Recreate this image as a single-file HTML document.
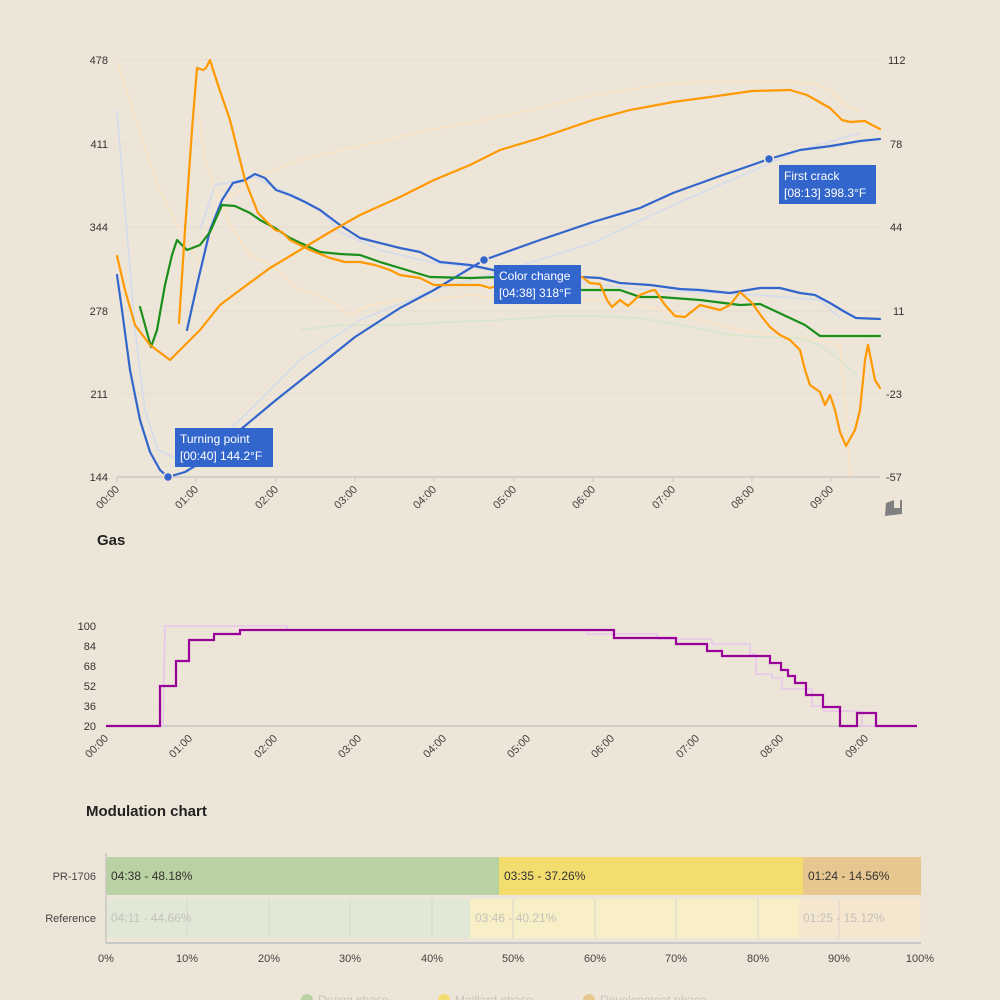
<!DOCTYPE html>
<html><head><meta charset="utf-8"><style>
html,body{margin:0;padding:0;background:#ede5d8;}
svg{display:block;font-family:"Liberation Sans",sans-serif;}
</style></head><body>
<svg width="1000" height="1000" viewBox="0 0 1000 1000">
<rect width="1000" height="1000" fill="#ede5d8"/>
<!-- main grid -->
<g stroke="#e4ddd0" stroke-width="1">
<line x1="117" y1="60" x2="880" y2="60"/><line x1="117" y1="144" x2="880" y2="144"/>
<line x1="117" y1="227" x2="880" y2="227"/><line x1="117" y1="311" x2="880" y2="311"/>
<line x1="117" y1="394" x2="880" y2="394"/>
</g>
<line x1="117" y1="477" x2="880" y2="477" stroke="#c9c6c2" stroke-width="1.5"/>
<g stroke="#c9c6c2"><line x1="117" y1="477" x2="117" y2="482"/><line x1="196" y1="477" x2="196" y2="482"/><line x1="276" y1="477" x2="276" y2="482"/><line x1="355" y1="477" x2="355" y2="482"/><line x1="434" y1="477" x2="434" y2="482"/><line x1="514" y1="477" x2="514" y2="482"/><line x1="593" y1="477" x2="593" y2="482"/><line x1="673" y1="477" x2="673" y2="482"/><line x1="752" y1="477" x2="752" y2="482"/><line x1="831" y1="477" x2="831" y2="482"/></g>
<g font-size="11" fill="#333" text-anchor="end">
<text x="108" y="64">478</text><text x="108" y="148">411</text><text x="108" y="231">344</text><text x="108" y="315">278</text><text x="108" y="398">211</text><text x="108" y="481">144</text>
</g>
<g font-size="11" fill="#333" text-anchor="start">
<text x="888" y="64">112</text><text x="890" y="148">78</text><text x="890" y="231">44</text><text x="893" y="315">11</text><text x="886" y="398">-23</text><text x="886" y="481">-57</text>
</g>
<g font-size="11" fill="#444" text-anchor="end">
<text transform="translate(120,490) rotate(-45)">00:00</text><text transform="translate(199,490) rotate(-45)">01:00</text><text transform="translate(279,490) rotate(-45)">02:00</text><text transform="translate(358,490) rotate(-45)">03:00</text><text transform="translate(437,490) rotate(-45)">04:00</text><text transform="translate(517,490) rotate(-45)">05:00</text><text transform="translate(596,490) rotate(-45)">06:00</text><text transform="translate(676,490) rotate(-45)">07:00</text><text transform="translate(755,490) rotate(-45)">08:00</text><text transform="translate(834,490) rotate(-45)">09:00</text>
</g>
<!-- reference pale lines -->
<g fill="none" stroke-width="1.6" stroke-linejoin="round">
<polyline stroke="#fbe3c4" points="117,60 130,100 145,150 160,190 175,220 190,250 200,262"/>
<polyline stroke="#fbe3c4" points="197,100 205,160 215,190 230,225 250,255 270,265 300,290 330,300 350,315 370,305 400,300 430,300 470,295 520,300 560,298 590,300 620,300 660,310 700,320 740,330 780,336 820,340 840,345 845,400 850,477"/>
<polyline stroke="#fbe3c4" points="225,200 260,175 300,160 360,146 420,132 500,117 593,95 673,83 752,82 815,83 830,90 845,105 860,112"/>
<polyline stroke="#d4dcec" points="117,110 125,210 135,330 145,410 158,450 175,458 200,455 240,420 300,360 360,320 434,290 500,272 593,243 673,205 752,171 800,150 860,133"/>
<polyline stroke="#d4dcec" points="200,230 215,185 240,180 255,177 270,185 300,198 320,210 340,232 380,250 430,262 480,268 540,275 600,285 650,290 700,292 760,295 820,300 840,318"/>
<polyline stroke="#d6e6cc" points="300,330 340,325 400,325 450,322 500,320 560,316 590,316 640,318 680,325 730,335 760,337 800,338 820,345 840,360 857,375"/>
</g>
<!-- main series -->
<g fill="none" stroke-width="2.2" stroke-linejoin="round" stroke-linecap="round">
<polyline stroke="#3366cc" points="117,275 122,310 130,370 140,420 150,452 160,470 168,477 185,472 200,463 240,430 276,400 320,365 355,337 400,308 434,290 484,260 540,240 593,222 640,208 673,193 720,176 752,165 769,159 800,150 831,146 860,141 880,139"/>
<polyline stroke="#3366cc" points="187,330 197,285 210,230 222,200 233,183 245,180 255,174 265,178 276,190 290,195 305,202 320,210 340,225 360,238 380,243 400,248 420,252 440,262 470,265 493,270 520,274 560,276 582,277 600,278 620,283 650,285 680,289 700,290 730,293 760,288 780,288 800,293 815,295 830,303 845,312 856,318 880,319"/>
<polyline stroke="#1a8f1a" points="140,307 145,325 151,347 157,330 165,285 172,255 177,240 182,245 187,250 200,245 210,232 222,205 235,206 250,213 260,220 275,228 290,238 320,252 340,254 360,255 380,262 400,268 430,277 470,278 500,277 540,283 580,290 600,290 620,290 640,297 660,297 700,300 740,305 760,304 790,318 805,325 820,336 880,336"/>
<polyline stroke="#ff9900" points="117,256 125,290 135,325 150,345 170,360 185,345 200,330 220,305 240,290 270,268 300,250 330,232 360,215 400,197 434,180 470,165 500,150 540,138 593,120 630,110 673,102 710,97 752,91 790,90 807,95 830,108 842,120 850,122 865,121 872,125 880,129"/>
<polyline stroke="#ff9900" points="179,323 185,230 192,130 197,68 203,70 206,68 210,60 218,85 230,120 245,180 258,213 265,220 275,230 282,232 290,240 300,245 310,250 330,258 345,262 360,262 375,265 390,270 400,275 420,278 434,285 460,285 480,285 490,288 500,285 520,283 550,280 582,277 590,283 600,284 607,300 612,307 620,300 628,306 640,295 650,291 655,290 665,305 675,316 685,317 700,305 712,308 720,310 730,305 740,292 752,303 762,317 770,327 780,335 790,340 800,350 805,370 810,385 820,392 825,405 830,395 835,410 840,432 846,446 855,430 860,410 865,360 868,345 875,380 880,388"/>
</g>
<!-- annotations -->
<circle cx="168" cy="477" r="4.5" fill="#3366cc" stroke="#ede5d8" stroke-width="1.5"/>
<circle cx="484" cy="260" r="4.5" fill="#3366cc" stroke="#ede5d8" stroke-width="1.5"/>
<circle cx="769" cy="159" r="4.5" fill="#3366cc" stroke="#ede5d8" stroke-width="1.5"/>
<rect x="175" y="428" width="98" height="39" fill="#3366cc"/>
<text x="180" y="443" font-size="12" fill="#fff">Turning point</text><text x="180" y="460" font-size="12" fill="#fff">[00:40] 144.2°F</text>
<rect x="494" y="265" width="87" height="39" fill="#3366cc"/>
<text x="499" y="280" font-size="12" fill="#fff">Color change</text><text x="499" y="297" font-size="12" fill="#fff">[04:38] 318°F</text>
<rect x="779" y="165" width="97" height="39" fill="#3366cc"/>
<text x="784" y="180" font-size="12" fill="#fff">First crack</text><text x="784" y="197" font-size="12" fill="#fff">[08:13] 398.3°F</text>
<path d="M886 503 L894 500 L894 508 L900 508 L900 500 L902 500 L902 514 L885 516 Z" fill="#808080"/>
<!-- Gas -->
<text x="97" y="545" font-size="15" font-weight="bold" fill="#222">Gas</text>
<g stroke="#e6dfd3"><line x1="106" y1="626" x2="917" y2="626"/><line x1="106" y1="646" x2="917" y2="646"/><line x1="106" y1="666" x2="917" y2="666"/><line x1="106" y1="686" x2="917" y2="686"/><line x1="106" y1="706" x2="917" y2="706"/></g>
<line x1="106" y1="726" x2="917" y2="726" stroke="#c9c6c2" stroke-width="1.5"/>
<g font-size="11" fill="#333" text-anchor="end"><text x="96" y="630">100</text><text x="96" y="650">84</text><text x="96" y="670">68</text><text x="96" y="690">52</text><text x="96" y="710">36</text><text x="96" y="730">20</text></g>
<g font-size="11" fill="#444" text-anchor="end">
<text transform="translate(109,739) rotate(-45)">00:00</text><text transform="translate(193,739) rotate(-45)">01:00</text><text transform="translate(278,739) rotate(-45)">02:00</text><text transform="translate(362,739) rotate(-45)">03:00</text><text transform="translate(447,739) rotate(-45)">04:00</text><text transform="translate(531,739) rotate(-45)">05:00</text><text transform="translate(615,739) rotate(-45)">06:00</text><text transform="translate(700,739) rotate(-45)">07:00</text><text transform="translate(784,739) rotate(-45)">08:00</text><text transform="translate(869,739) rotate(-45)">09:00</text>
</g>
<polyline fill="none" stroke="#e8c6ec" stroke-width="1.6" points="106,726 163,726 165,626 287,626 287,630 587,630 587,634 657,634 657,639 712,639 712,644 750,644 750,654 756,654 756,674 772,674 772,678 782,678 782,689 812,689 812,706 823,706 823,711 862,711 862,726 917,726"/>
<polyline fill="none" stroke="#990099" stroke-width="2.2" points="106,726 160,726 160,686 176,686 176,661 189,661 189,640 214,640 214,634 240,634 240,630 614,630 614,638 676,638 676,644 707,644 707,651 722,651 722,656 770,656 770,663 781,663 781,670 788,670 788,676 795,676 795,683 806,683 806,695 823,695 823,707 840,707 840,726 857,726 857,713 876,713 876,726 917,726"/>
<!-- Modulation -->
<text x="86" y="816" font-size="15" font-weight="bold" fill="#222">Modulation chart</text>
<rect x="106" y="857" width="393" height="38" fill="#bad1a3"/>
<rect x="499" y="857" width="304" height="38" fill="#f3dd6e"/>
<rect x="803" y="857" width="118" height="38" fill="#e8c690"/>
<rect x="106" y="899" width="364" height="39" fill="#e1e8d6"/>
<rect x="470" y="899" width="329" height="39" fill="#f8efc6"/>
<rect x="799" y="899" width="122" height="39" fill="#f5e6d0"/>
<g stroke="#d9d6cc" stroke-width="1"><line x1="187" y1="899" x2="187" y2="938"/><line x1="269" y1="899" x2="269" y2="938"/><line x1="350" y1="899" x2="350" y2="938"/><line x1="432" y1="899" x2="432" y2="938"/><line x1="513" y1="899" x2="513" y2="938"/><line x1="595" y1="899" x2="595" y2="938"/><line x1="676" y1="899" x2="676" y2="938"/><line x1="758" y1="899" x2="758" y2="938"/><line x1="839" y1="899" x2="839" y2="938"/></g>
<line x1="106" y1="853" x2="106" y2="943" stroke="#c9c6c2" stroke-width="1.5"/>
<line x1="106" y1="943" x2="921" y2="943" stroke="#b9bec4" stroke-width="1.5"/>
<g font-size="12" fill="#333"><text x="111" y="880">04:38 - 48.18%</text><text x="504" y="880">03:35 - 37.26%</text><text x="808" y="880">01:24 - 14.56%</text></g>
<g font-size="12" fill="#c4c2bb"><text x="111" y="922">04:11 - 44.66%</text><text x="475" y="922">03:46 - 40.21%</text><text x="803" y="922">01:25 - 15.12%</text></g>
<g font-size="11" fill="#444" text-anchor="end"><text x="96" y="880">PR-1706</text><text x="96" y="922">Reference</text></g>
<g font-size="11" fill="#444" text-anchor="middle"><text x="106" y="962">0%</text><text x="187" y="962">10%</text><text x="269" y="962">20%</text><text x="350" y="962">30%</text><text x="432" y="962">40%</text><text x="513" y="962">50%</text><text x="595" y="962">60%</text><text x="676" y="962">70%</text><text x="758" y="962">80%</text><text x="839" y="962">90%</text><text x="920" y="962">100%</text></g>
<g font-size="12" fill="#c9c4bb"><circle cx="307" cy="1000" r="6" fill="#bad1a3"/><text x="318" y="1004">Drying phase</text><circle cx="444" cy="1000" r="6" fill="#f3dd6e"/><text x="455" y="1004">Maillard phase</text><circle cx="589" cy="1000" r="6" fill="#e8c690"/><text x="600" y="1004">Development phase</text></g>
</svg>
</body></html>
